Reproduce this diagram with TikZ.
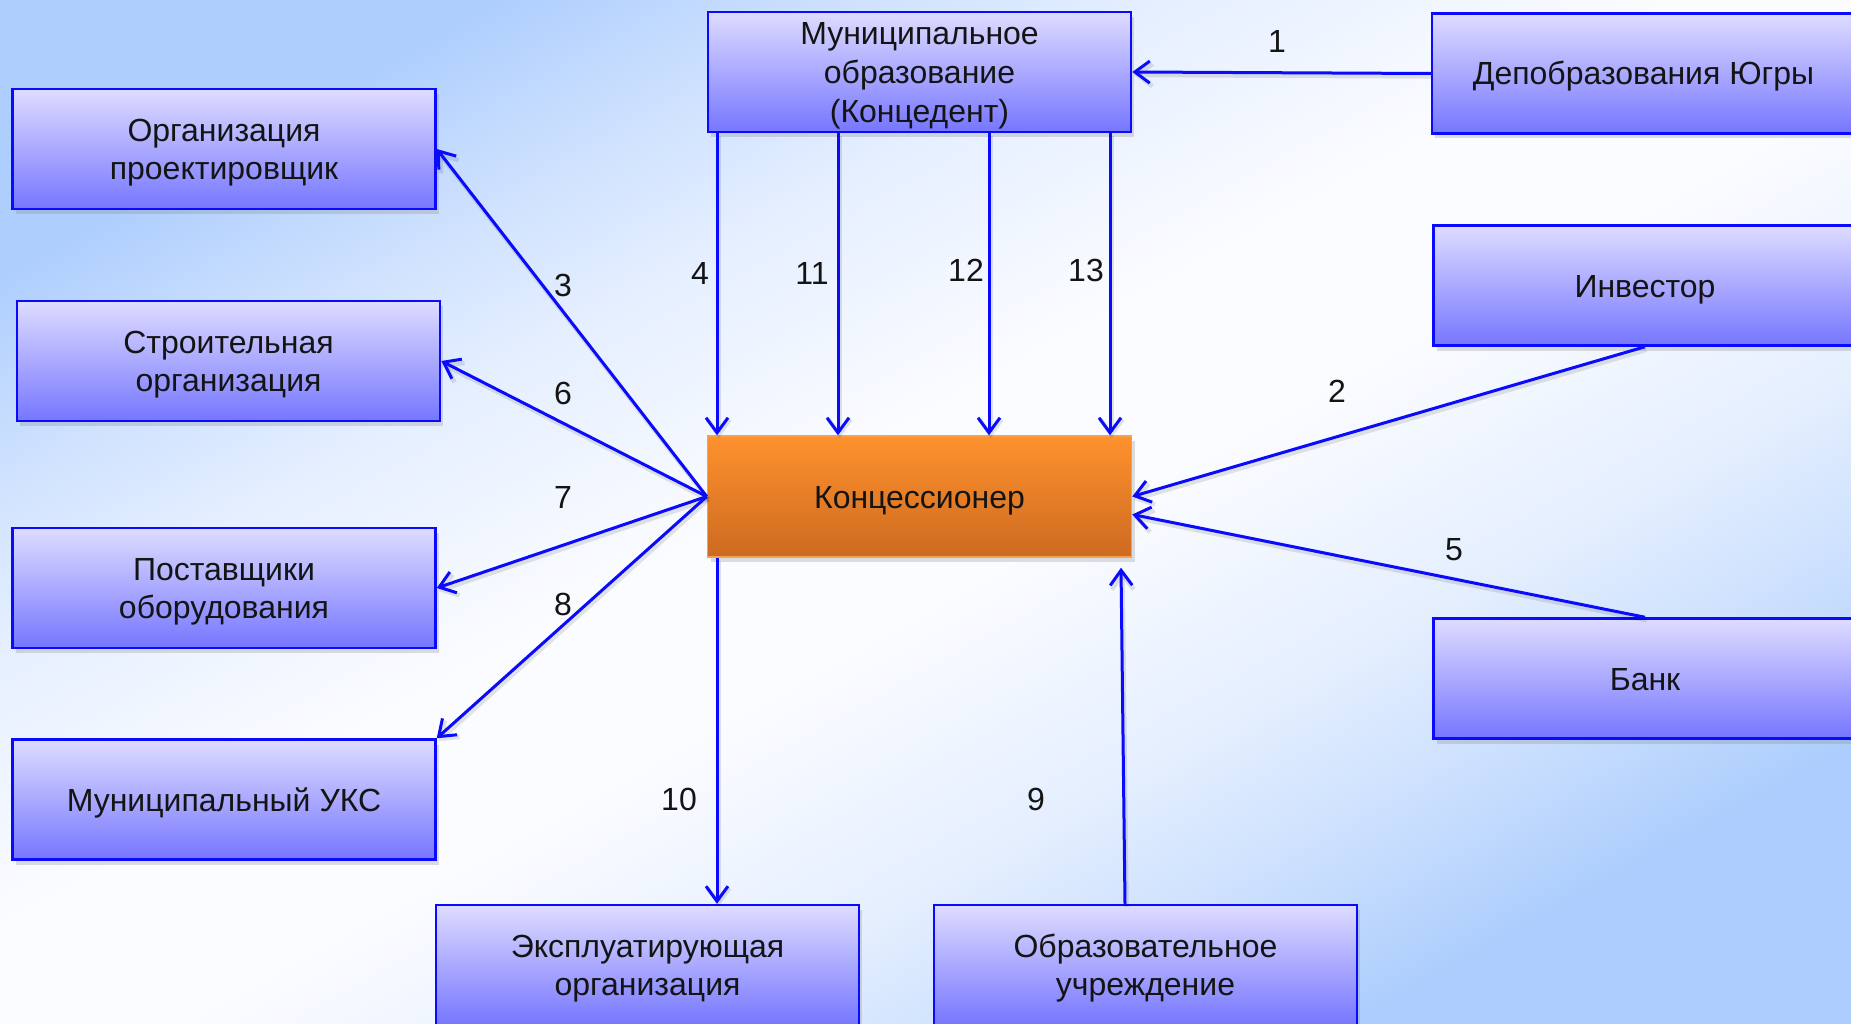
\documentclass[tikz,border=0pt]{standalone}
\usepackage{fontspec}
\setmainfont{Liberation Sans}
\usetikzlibrary{arrows.meta,shadows,calc}
\definecolor{bgA}{RGB}{174,206,254}
\definecolor{bgW}{RGB}{251,252,255}
\definecolor{bgB}{RGB}{172,205,253}
\colorlet{bgA6}{bgA!62!bgW}
\colorlet{bgA3}{bgA!28!bgW}
\colorlet{bgB6}{bgB!62!bgW}
\colorlet{bgB3}{bgB!28!bgW}
\definecolor{boxTop}{RGB}{222,220,255}
\definecolor{boxBot}{RGB}{118,118,255}
\definecolor{orTop}{RGB}{255,146,46}
\definecolor{orBot}{RGB}{204,106,32}
\definecolor{orLine}{RGB}{246,160,80}
\definecolor{lnBlue}{RGB}{10,10,252}
\pgfdeclarehorizontalshading{bgshade}{100bp}{color(0bp)=(bgA); color(25bp)=(bgA); color(31bp)=(bgA6); color(37.5bp)=(bgA3); color(47bp)=(bgW); color(53bp)=(bgW); color(62.5bp)=(bgB3); color(69bp)=(bgB6); color(75bp)=(bgB); color(100bp)=(bgB)}
\begin{document}
\begin{tikzpicture}[x=1pt,y=-1pt,
  txt/.style={font=\fontsize{32}{38.8}\selectfont, text=black!92},
  box/.style={txt, draw=lnBlue, line width=2.5pt, top color=boxTop, bottom color=boxBot,
    minimum width=423pt, minimum height=120pt, inner sep=0pt, align=center,
    text height=28pt, text depth=5pt,
    drop shadow={opacity=0.25, shadow xshift=3pt, shadow yshift=-5pt}},
  twolines/.style={text height=66.8pt},
  threelines/.style={text height=105.6pt},
  kbox/.style={box, draw=orLine, line width=1.5pt, top color=orTop, bottom color=orBot,
    minimum width=424pt, minimum height=121pt},
  arr/.style={draw=lnBlue, line width=3pt, -{Straight Barb[length=15pt,width=22pt]},
    preaction={draw=black, opacity=0.10, line width=4.5pt, transform canvas={shift={(1.5pt,-3pt)}}}},
  num/.style={txt, inner sep=0pt}
]
\useasboundingbox (0,0) rectangle (1851,1024);
\fill[shading=bgshade, shading angle=-61] (0,0) rectangle (1851,1024);
\clip (0,0) rectangle (1851,1024);

% boxes
\node[box, threelines] (mun) at (919.5,72) {Муниципальное\\образование\\(Концедент)};
\node[box] (dep) at (1643.5,73.5) {Депобразования Югры};
\node[box, twolines] (org) at (224,149) {Организация\\проектировщик};
\node[box, twolines] (str) at (228.5,361) {Строительная\\организация};
\node[box, twolines] (post) at (224,588) {Поставщики\\оборудования};
\node[box] (uks) at (224,799.5) {Муниципальный УКС};
\node[kbox] (kon) at (919.5,496.5) {Концессионер};
\node[box] (inv) at (1645,285.5) {Инвестор};
\node[box] (bank) at (1645,678.5) {Банк};
\node[box, twolines] (expl) at (647.5,965) {Эксплуатирующая\\организация};
\node[box, twolines] (obr) at (1145.5,965) {Образовательное\\учреждение};

% helper coordinates
\coordinate (x4) at (717,0);
\coordinate (x11) at (838,0);
\coordinate (x12) at (989,0);
\coordinate (x13) at (1110,0);
\coordinate (x9s) at (1125,0);
\coordinate (x9e) at (1121,0);
\coordinate (t9) at ($(kon.south -| x9e)+(0,10)$);
\coordinate (t5) at ($(kon.east)+(0,18)$);

% connectors
\draw[arr] (dep.west) -- (mun.east);
\draw[arr] (mun.south -| x4) -- (kon.north -| x4);
\draw[arr] (mun.south -| x11) -- (kon.north -| x11);
\draw[arr] (mun.south -| x12) -- (kon.north -| x12);
\draw[arr] (mun.south -| x13) -- (kon.north -| x13);
\draw[arr] (kon.west) -- (org.east);
\draw[arr] (kon.west) -- (str.east);
\draw[arr] (kon.west) -- (post.east);
\draw[arr] (kon.west) -- (uks.north east);
\draw[arr] (kon.south -| x4) -- (expl.north -| x4);
\draw[arr] (obr.north -| x9s) -- (t9);
\draw[arr] (inv.south) -- (kon.east);
\draw[arr] (bank.north) -- (t5);

% numbers
\node[num] (n1) at (1277,41) {1};
\node[num] (n2) at (1337,391) {2};
\node[num] (n3) at (563,285) {3};
\node[num] (n4) at (700,273) {4};
\node[num] (n5) at (1454,550) {5};
\node[num] (n6) at (563,393) {6};
\node[num] (n7) at (563,497) {7};
\node[num] (n8) at (563,604) {8};
\node[num] (n9) at (1036,799) {9};
\node[num] (n10) at (679,799) {10};
\node[num] (n11) at (812,273) {11};
\node[num] (n12) at (966,270) {12};
\node[num] (n13) at (1086,270) {13};
\end{tikzpicture}
\end{document}
